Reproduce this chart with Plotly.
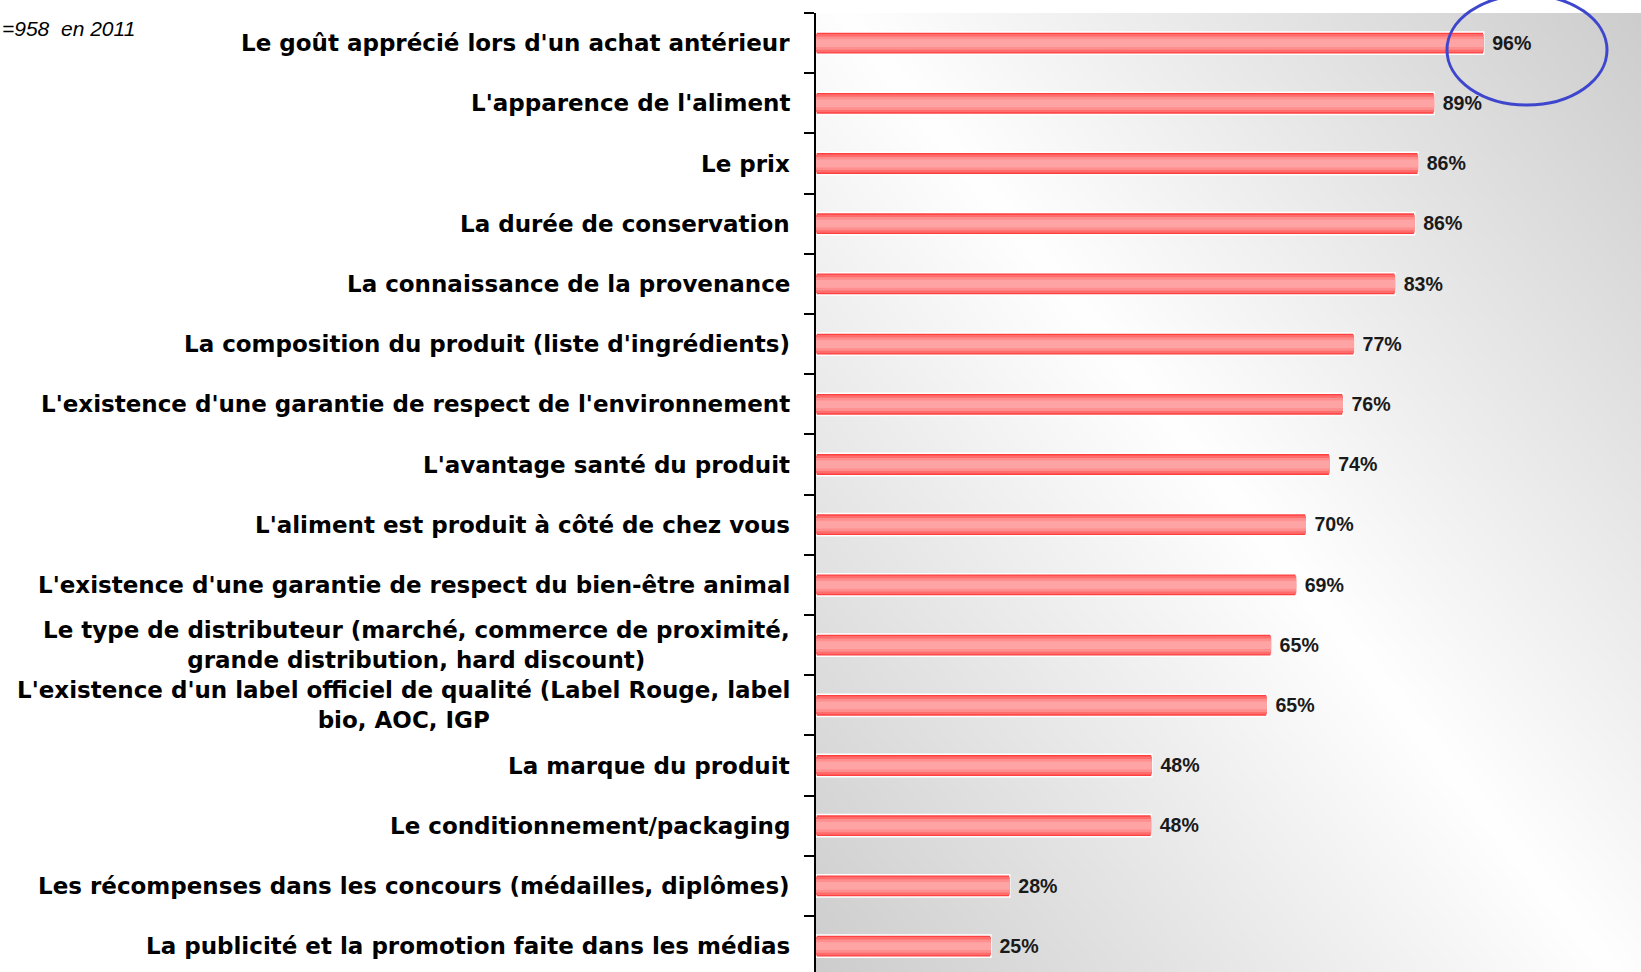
import base64, struct, zlib
import plotly.graph_objects as go

categories = [
    "Le goût apprécié lors d'un achat antérieur",
    "L'apparence de l'aliment",
    "Le prix",
    "La durée de conservation",
    "La connaissance de la provenance",
    "La composition du produit (liste d'ingrédients)",
    "L'existence d'une garantie de respect de l'environnement",
    "L'avantage santé du produit",
    "L'aliment est produit à côté de chez vous",
    "L'existence d'une garantie de respect du bien-être animal",
    "Le type de distributeur (marché, commerce de proximité,<br>grande distribution, hard discount)",
    "L'existence d'un label officiel de qualité (Label Rouge, label<br>bio, AOC, IGP",
    "La marque du produit",
    "Le conditionnement/packaging",
    "Les récompenses dans les concours (médailles, diplômes)",
    "La publicité et la promotion faite dans les médias",
]
values = [95.8, 88.7, 86.4, 85.9, 83.1, 77.2, 75.6, 73.7, 70.3, 68.9, 65.3, 64.7, 48.2, 48.1, 27.8, 25.1]
value_labels = ["96%", "89%", "86%", "86%", "83%", "77%", "76%", "74%", "70%", "69%", "65%", "65%", "48%", "48%", "28%", "25%"]
note_text = "=958  en 2011"

# plot-area geometry
L, T = 816, 13
PW, PH = 1641 - L, 972 - T  # 825 x 959

# ---- background gradient image (decoration) ----
W, H = 413, 480
nx, ny = 0.626, 0.780
rows = []
for j in range(H):
    v = j * PH / H
    row = bytearray()
    for i in range(W):
        u = i * PW / W
        d = abs((u - 34) * ny - (v - 8) * nx)
        g = int(max(200, 255 - 0.08 * d))
        row.append(g)
    rows.append(row)
raw = b"".join(b"\x00" + bytes(r) for r in rows)

def chunk(t, data):
    c = struct.pack(">I", len(data)) + t + data
    return c + struct.pack(">I", zlib.crc32(t + data) & 0xffffffff)

png = b"\x89PNG\r\n\x1a\n" + chunk(b"IHDR", struct.pack(">IIBBBBB", W, H, 8, 0, 0, 0, 0)) \
      + chunk(b"IDAT", zlib.compress(raw, 9)) + chunk(b"IEND", b"")
bg_uri = "data:image/png;base64," + base64.b64encode(png).decode()

fig = go.Figure()
layers = [(0.37, "#ff4040"), (0.30, "#ff6c6c"), (0.22, "#ff8e8e"), (0.13, "#ffa4a4")]
for k, (w, col) in enumerate(layers):
    fig.add_trace(go.Bar(
        x=values, y=categories, orientation="h",
        width=[w] * len(values),
        marker=dict(color=col, line=dict(color="white", width=1.5 if k == 0 else 0)),
        text=["\u00a0" + t for t in value_labels] if k == 0 else None,
        textposition="outside" if k == 0 else "none",
        textfont=dict(family="Liberation Sans, Arial, sans-serif", size=22, color="#1a1a1a", weight="bold"),
        cliponaxis=False,
        hoverinfo="skip", showlegend=False,
    ))

annotations = []
for c in categories:
    annotations.append(dict(
        x=0, xref="paper", y=c, yref="y", xanchor="right", yanchor="middle",
        xshift=-24, text="<b>" + c + "</b>", showarrow=False, align="center",
        font=dict(family="DejaVu Sans, Verdana, sans-serif", size=23, color="black"),
    ))
annotations.append(dict(
    x=-L / PW, xref="paper", y=1 - (29 - T) / PH, yref="paper",
    xanchor="left", yanchor="middle", text="<i>" + note_text + "</i>", showarrow=False,
    font=dict(family="Liberation Sans, Arial, sans-serif", size=21, color="black"),
))

fig.update_layout(
    width=1641, height=972,
    margin=dict(l=L, r=0, t=T, b=0, pad=0),
    barmode="overlay",
    paper_bgcolor="white",
    plot_bgcolor="rgba(0,0,0,0)",
    xaxis=dict(range=[0, PW / 6.97], visible=False, fixedrange=True),
    yaxis=dict(
        categoryorder="array", categoryarray=categories,
        range=[PH / 60.2 - 0.5, -0.5], showticklabels=False,
        showline=True, linecolor="black", linewidth=1.5,
        ticks="outside", tickson="boundaries", ticklen=10, tickcolor="black", tickwidth=1.5,
        showgrid=False, zeroline=False, fixedrange=True,
    ),
    images=[dict(source=bg_uri, xref="paper", yref="paper", x=0, y=1, sizex=1, sizey=1,
                 sizing="stretch", layer="below", xanchor="left", yanchor="top")],
    shapes=[dict(type="circle", xref="paper", yref="paper",
                 x0=(1447 - L) / PW, x1=(1607 - L) / PW,
                 y0=1 - (105 - T) / PH, y1=1 - (-5 - T) / PH,
                 line=dict(color="#3d46cc", width=3))],
    annotations=annotations,
)

fig.write_html(
    "out.html",
    config={"displayModeBar": False},
    post_script="document.body.style.margin='0';document.body.style.overflow='hidden';",
)
